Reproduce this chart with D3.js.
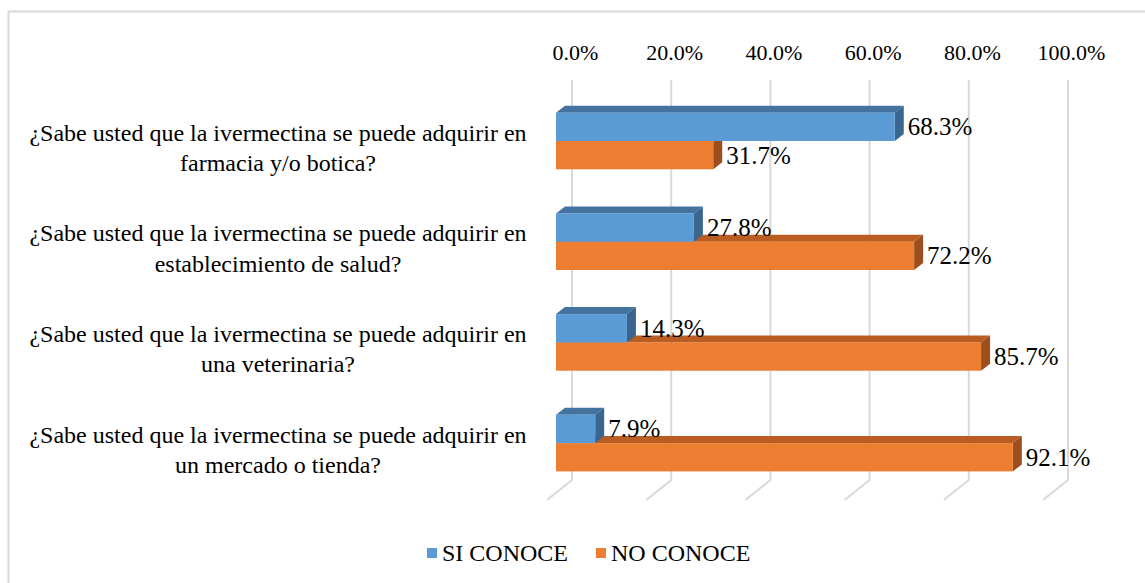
<!DOCTYPE html>
<html>
<head>
<meta charset="utf-8">
<script src="https://cdn.jsdelivr.net/npm/d3@7"></script>
<style>
  html, body { margin: 0; padding: 0; background: #fff; }
  svg { display: block; }
</style>
</head>
<body>
<div id="container"></div>
<script>
// data
const categories = [
    ['¿Sabe usted que la ivermectina se puede adquirir en', 'farmacia y/o botica?'],
    ['¿Sabe usted que la ivermectina se puede adquirir en', 'establecimiento de salud?'],
    ['¿Sabe usted que la ivermectina se puede adquirir en', 'una veterinaria?'],
    ['¿Sabe usted que la ivermectina se puede adquirir en', 'un mercado o tienda?']
];
const siConoce = [0.683, 0.278, 0.143, 0.079];
const noConoce = [0.317, 0.722, 0.857, 0.921];
const ticks = [0, 0.2, 0.4, 0.6, 0.8, 1.0];
const seriesNames = ['SI CONOCE', 'NO CONOCE'];

const W = 1145, H = 583;
const font = '"Liberation Serif", "Times New Roman", serif';

const colors = {
    si: { front: '#5b9bd5', top: '#44739f', side: '#3a6690' },
    no: { front: '#ed7d31', top: '#b95d22', side: '#9c4e1d' }
};

const svg = d3.select('#container')
    .append('svg')
    .attr('width', W)
    .attr('height', H);

// outer frame
svg.append('rect')
    .attr('x', 8.5)
    .attr('y', 11.5)
    .attr('width', W + 20)
    .attr('height', H + 20)
    .attr('fill', 'none')
    .attr('stroke', '#d9d9d9')
    .attr('stroke-width', 2);

// back wall scale and front-face scale (oblique 3d)
const x = d3.scaleLinear().domain([0, 1]).range([572, 1068]);
const xf = d3.scaleLinear().domain([0, 1]).range([556, 1052]);
const depth = { dx: 9, dy: -7 };
const floorTop = 80, floorBack = 480;
const floorDx = -25, floorDy = 20;

const y = d3.scaleBand()
    .domain(d3.range(categories.length))
    .range([68.6, 515.5])
    .paddingInner(0.438)
    .paddingOuter(0.438);
const ys = d3.scaleBand()
    .domain(['si', 'no'])
    .range([0, y.bandwidth()]);

// gridlines
const grid = svg.append('g');
grid.selectAll('path')
    .data(ticks)
    .enter()
    .append('path')
    .attr('d', d => `M${x(d)},${floorTop}V${floorBack}l${floorDx},${floorDy}`)
    .attr('fill', 'none')
    .attr('stroke', '#d9d9d9')
    .attr('stroke-width', 2);

// top axis labels
const axis = svg.append('g')
    .attr('transform', `translate(3,${floorTop})`)
    .call(d3.axisTop(x).tickValues(ticks).tickFormat(d3.format('.1%')).tickSize(0).tickPadding(20));
axis.select('.domain').remove();
axis.selectAll('text')
    .attr('font-family', font)
    .attr('font-size', 22)
    .attr('fill', '#000');

// bars
function bar(g, v, yTop, h, c) {
    const x0 = xf(0), x1 = xf(v);
    const dx = depth.dx, dy = depth.dy;
    g.append('path')
        .attr('d', `M${x0},${yTop}L${x0 + dx},${yTop + dy}L${x1 + dx},${yTop + dy}L${x1},${yTop}Z`)
        .attr('fill', c.top);
    g.append('path')
        .attr('d', `M${x1},${yTop}L${x1 + dx},${yTop + dy}L${x1 + dx},${yTop + h + dy}L${x1},${yTop + h}Z`)
        .attr('fill', c.side);
    g.append('rect')
        .attr('x', x0)
        .attr('y', yTop)
        .attr('width', x1 - x0)
        .attr('height', h)
        .attr('fill', c.front);
}

const bars = svg.append('g');
const labels = svg.append('g')
    .attr('font-family', font)
    .attr('fill', '#000');
const fmt = d3.format('.1%');

categories.forEach((cat, i) => {
    const g = bars.append('g');
    const h = ys.bandwidth();
    // orange (lower) first, blue over it
    bar(g, noConoce[i], y(i) + ys('no'), h, colors.no);
    bar(g, siConoce[i], y(i) + ys('si'), h, colors.si);

    [['si', siConoce[i]], ['no', noConoce[i]]].forEach(([k, v]) => {
        labels.append('text')
            .attr('x', xf(v) + depth.dx + 4)
            .attr('y', y(i) + ys(k) + h / 2 + 8.5)
            .attr('font-size', 25)
            .text(fmt(v));
    });

    const cy = y(i) + y.bandwidth() / 2;
    const t = labels.append('text')
        .attr('text-anchor', 'middle')
        .attr('font-size', 24);
    cat.forEach((line, j) => {
        t.append('tspan')
            .attr('x', 278)
            .attr('y', cy - 0.5 + j * 30.5)
            .text(line);
    });
});

// legend
const legend = svg.append('g')
    .attr('font-family', font)
    .attr('font-size', 24);
const legendX = [427, 596];
seriesNames.forEach((name, i) => {
    legend.append('rect')
        .attr('x', legendX[i])
        .attr('y', 548)
        .attr('width', 10)
        .attr('height', 10)
        .attr('fill', i === 0 ? colors.si.front : colors.no.front);
    legend.append('text')
        .attr('x', legendX[i] + 15)
        .attr('y', 561)
        .text(name);
});
</script>
</body>
</html>
